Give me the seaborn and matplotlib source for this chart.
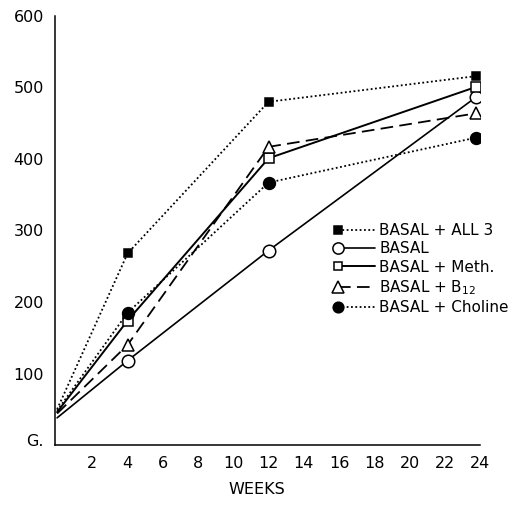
import matplotlib
matplotlib.use("Agg")
import matplotlib.pyplot as plt
import matplotlib.transforms as mtransforms
import seaborn as sns
from matplotlib.legend_handler import HandlerLine2D
from matplotlib.lines import Line2D

# ---- data ----
weeks = [0, 4, 12, 23.8]
all3 = [50, 268, 480, 516]
basal = [38, 118, 272, 487]
meth = [46, 174, 401, 501]
b12 = [44, 140, 417, 464]
choline = [48, 185, 367, 430]

labels = ["BASAL + ALL 3", "BASAL", "BASAL + Meth.",
          "BASAL + B$_{\\mathregular{12}}$", "BASAL + Choline"]
x_ticks = [2, 4, 6, 8, 10, 12, 14, 16, 18, 20, 22, 24]
y_ticks = [0, 100, 200, 300, 400, 500, 600]
y_ticklabels = ["G.", "100", "200", "300", "400", "500", "600"]

sns.set_theme(style="white")
plt.rcParams["font.family"] = ["DejaVu Sans"]
plt.rcParams["mathtext.fontset"] = "dejavusans"
plt.rcParams["text.color"] = "black"
plt.rcParams["axes.labelcolor"] = "black"

fig = plt.figure(figsize=(5.14, 5.11), dpi=100)
ax = fig.add_axes([55 / 514, 1 - 445 / 511, (480 - 55) / 514, (445 - 16) / 511])

dot = (0, (1.0, 1.4))
styles = [
    dict(ls=dot, marker="s", ms=6, mfc="black", lw=1.3),
    dict(ls="-", marker="o", ms=9, mfc="white", lw=1.2),
    dict(ls="-", marker="s", ms=7, mfc="white", lw=1.4),
    dict(ls=(0, (7, 3.5)), marker="^", ms=9, mfc="white", lw=1.3),
    dict(ls=dot, marker="o", ms=8.5, mfc="black", lw=1.3),
]
series = [all3, basal, meth, b12, choline]
order = [1, 2, 3, 4, 0]  # draw order (back to front)
handles = [None] * 5
for i in order:
    st = styles[i]
    sns.lineplot(x=weeks, y=series[i], ax=ax, color="black",
                 linestyle=st["ls"], linewidth=st["lw"], marker=st["marker"],
                 markersize=st["ms"], markerfacecolor=st["mfc"],
                 markeredgecolor="black", markeredgewidth=1.1,
                 markevery=[1, 2, 3], zorder=3 + i, label=labels[i],
                 legend=False)
    handles[i] = ax.lines[-1]


class LeftMarker(HandlerLine2D):
    def create_artists(self, legend, orig_handle, xdescent, ydescent,
                       width, height, fontsize, trans):
        arts = super().create_artists(legend, orig_handle, xdescent, ydescent,
                                      width, height, fontsize, trans)
        for a in arts:
            if isinstance(a, Line2D):
                a.set_markevery([0])
        return arts


ax.set_xlim(-0.12, 24)
ax.set_ylim(0, 600)
ax.set_xticks(x_ticks)
ax.set_xticklabels([str(t) for t in x_ticks])
ax.set_yticks(y_ticks)
ax.set_yticklabels(y_ticklabels)
ax.tick_params(axis="both", direction="in", colors="black", labelsize=11.5,
               width=1.1)
ax.tick_params(axis="y", length=7, pad=8)
ax.tick_params(axis="x", length=6.5, pad=8)
# nudge the "G." label slightly upward, as in the reference
g_lab = ax.get_yticklabels()[0]
g_lab.set_transform(g_lab.get_transform() +
                    mtransforms.ScaledTranslation(0, 5 / 100, fig.dpi_scale_trans))
for s in ["top", "right"]:
    ax.spines[s].set_visible(False)
for s in ["left", "bottom"]:
    ax.spines[s].set_color("black")
    ax.spines[s].set_linewidth(1.1)

fig.text(257 / 514, 1 - 490 / 511, "WEEKS", ha="center", va="center",
         fontsize=11.5, color="black")

leg = fig.legend(handles, labels, loc="upper left",
                 bbox_to_anchor=(338 / 514, 1 - 223 / 511),
                 bbox_transform=fig.transFigure, frameon=False,
                 fontsize=11, handlelength=2.4, handletextpad=0.3,
                 labelspacing=0.22, borderpad=0, borderaxespad=0,
                 labelcolor="black",
                 handler_map={Line2D: LeftMarker(numpoints=1)})
for h in leg.legend_handles:
    h.set_markersize(h.get_markersize() * 0.9)

fig.savefig("out.png", dpi=100)
